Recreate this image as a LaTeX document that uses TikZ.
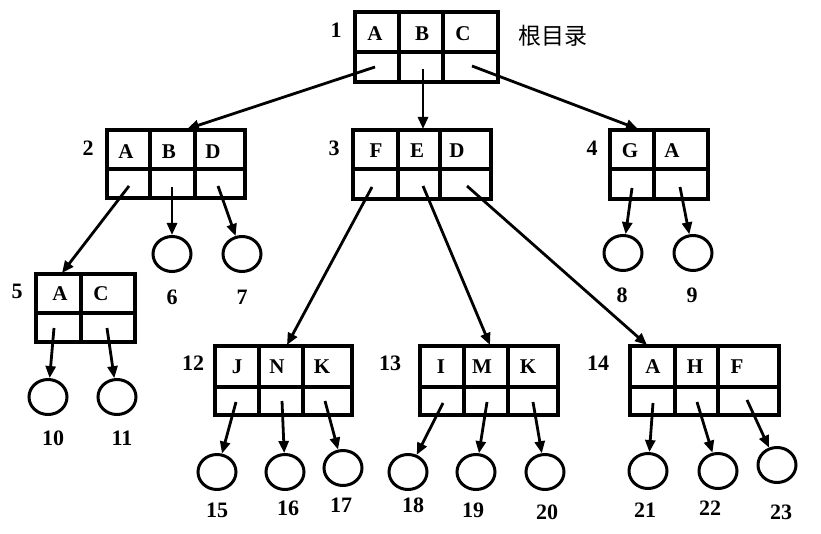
\documentclass[tikz,border=0pt]{standalone}
\usepackage{fontspec}
\setmainfont{Liberation Serif}
\newfontfamily\cjkfont{Noto Sans CJK SC}
\usetikzlibrary{arrows.meta,shapes.geometric}
\begin{document}
\begin{tikzpicture}[x=1pt,y=-1pt,
  frame/.style={line width=3.2pt},
  ptr/.style={line width=2.8pt,-{Triangle[length=12pt,width=10pt]}},
  leaf/.style={draw,ellipse,line width=3pt,minimum width=38pt,minimum height=35pt,inner sep=0pt},
  lab/.style={font=\fontsize{21}{22}\selectfont\bfseries,inner sep=0pt},
  num/.style={font=\fontsize{22}{23}\selectfont\bfseries,inner sep=0pt},
]
\useasboundingbox (0,0) rectangle (821,534);

% ---------- directory blocks: outer frame, middle rule, column dividers ----------
% block 1 (root)
\draw[frame] (355,12) rectangle (498,82) (355,52) -- (498,52) (399,12) -- (399,82) (443,12) -- (443,82);
\node[num] (n1) at (336,30) {1};
\node[lab] (b1a) at (375,34) {A};
\node[lab] (b1b) at (422,34) {B};
\node[lab] (b1c) at (463,34) {C};
\node[font=\cjkfont\fontsize{23}{24}\selectfont,inner sep=0pt] (root) at (553,36) {根目录};
\coordinate (p1a) at (375,67);
\coordinate (p1b) at (423,69);
\coordinate (p1c) at (472,66);

% block 2
\draw[frame] (107,130) rectangle (245,198) (107,169) -- (245,169) (150,130) -- (150,198) (195,130) -- (195,198);
\node[num] (n2) at (88,148) {2};
\node[lab] (b2a) at (126,152) {A};
\node[lab] (b2b) at (169,152) {B};
\node[lab] (b2d) at (213,152) {D};
\coordinate (p2a) at (129,186);
\coordinate (p2b) at (172,187);
\coordinate (p2d) at (218,186);
\coordinate (t2) at (187,129);

% block 3
\draw[frame] (353,130) rectangle (491,199) (353,169) -- (491,169) (398,130) -- (398,199) (440,130) -- (440,199);
\node[num] (n3) at (334,148) {3};
\node[lab] (b3f) at (376,151) {F};
\node[lab] (b3e) at (417,151) {E};
\node[lab] (b3d) at (457,151) {D};
\coordinate (p3f) at (372,187);
\coordinate (p3e) at (423,186);
\coordinate (p3d) at (467,186);
\coordinate (t3) at (423,129);

% block 4
\draw[frame] (610,130) rectangle (708,199) (610,169) -- (708,169) (654,130) -- (654,199);
\node[num] (n4) at (592,148) {4};
\node[lab] (b4g) at (630,151) {G};
\node[lab] (b4a) at (672,151) {A};
\coordinate (p4g) at (632,188);
\coordinate (p4a) at (680,187);
\coordinate (t4) at (638,129);

% block 5
\draw[frame] (36,274) rectangle (135,342) (36,313) -- (135,313) (81,274) -- (81,342);
\node[num] (n5) at (17,291) {5};
\node[lab] (b5a) at (60,294) {A};
\node[lab] (b5c) at (101,294) {C};
\coordinate (p5a) at (54,328);
\coordinate (p5c) at (107,328);
\coordinate (t5) at (62,273);

% block 12
\draw[frame] (215,346) rectangle (352,415) (215,387) -- (352,387) (259,346) -- (259,415) (303,346) -- (303,415);
\node[num] (n12) at (193,363) {12};
\node[lab] (b12j) at (237,367) {J};
\node[lab] (b12n) at (277,367) {N};
\node[lab] (b12k) at (322,367) {K};
\coordinate (p12j) at (236,402);
\coordinate (p12n) at (282,401);
\coordinate (p12k) at (325,401);
\coordinate (t12) at (287,345);

% block 13
\draw[frame] (420,346) rectangle (558,415) (420,387) -- (558,387) (464,346) -- (464,415) (508,346) -- (508,415);
\node[num] (n13) at (390,363) {13};
\node[lab] (b13i) at (441,367) {I};
\node[lab] (b13m) at (482,367) {M};
\node[lab] (b13k) at (528,367) {K};
\coordinate (p13i) at (443,403);
\coordinate (p13m) at (487,402);
\coordinate (p13k) at (533,402);
\coordinate (t13) at (490,345);

% block 14
\draw[frame] (630,346) rectangle (779,415) (630,387) -- (779,387) (675,346) -- (675,415) (718,346) -- (718,415);
\node[num] (n14) at (598,363) {14};
\node[lab] (b14a) at (653,367) {A};
\node[lab] (b14h) at (695,367) {H};
\node[lab] (b14f) at (737,367) {F};
\coordinate (p14a) at (653,403);
\coordinate (p14h) at (697,402);
\coordinate (p14f) at (747,400);
\coordinate (t14) at (647,345);

% ---------- file leaves ----------
\node[leaf] (c6)  at (172,254) {};
\node[leaf] (c7)  at (242,254) {};
\node[leaf] (c8)  at (623,253) {};
\node[leaf] (c9)  at (693,253) {};
\node[leaf] (c10) at (48,397) {};
\node[leaf] (c11) at (117,397) {};
\node[leaf] (c15) at (217,472) {};
\node[leaf] (c16) at (285,472) {};
\node[leaf] (c17) at (343,468) {};
\node[leaf] (c18) at (408,472) {};
\node[leaf] (c19) at (476,472) {};
\node[leaf] (c20) at (545,472) {};
\node[leaf] (c21) at (648,471) {};
\node[leaf] (c22) at (718,471) {};
\node[leaf] (c23) at (777,465) {};

\node[num] (l6)  at (172,297) {6};
\node[num] (l7)  at (242,297) {7};
\node[num] (l8)  at (622,295) {8};
\node[num] (l9)  at (692,295) {9};
\node[num] (l10) at (53,438) {10};
\node[num] (l11) at (122,438) {11};
\node[num] (l15) at (217,510) {15};
\node[num] (l16) at (288,508) {16};
\node[num] (l17) at (341,505) {17};
\node[num] (l18) at (413,505) {18};
\node[num] (l19) at (473,510) {19};
\node[num] (l20) at (547,512) {20};
\node[num] (l21) at (645,510) {21};
\node[num] (l22) at (710,508) {22};
\node[num] (l23) at (781,512) {23};

% ---------- pointers ----------
\draw[ptr] (p1a) -- (t2);
\draw[ptr] (p1b) -- (t3);
\draw[ptr] (p1c) -- (t4);

\draw[ptr] (p2a) -- (t5);
\draw[ptr] (p2b) -- (c6);
\draw[ptr] (p2d) -- (c7);

\draw[ptr] (p3f) -- (t12);
\draw[ptr] (p3e) -- (t13);
\draw[ptr] (p3d) -- (t14);

\draw[ptr] (p4g) -- (c8);
\draw[ptr] (p4a) -- (c9);

\draw[ptr] (p5a) -- (c10);
\draw[ptr] (p5c) -- (c11);

\draw[ptr] (p12j) -- (c15);
\draw[ptr] (p12n) -- (c16);
\draw[ptr] (p12k) -- (c17);

\draw[ptr] (p13i) -- (c18);
\draw[ptr] (p13m) -- (c19);
\draw[ptr] (p13k) -- (c20);

\draw[ptr] (p14a) -- (c21);
\draw[ptr] (p14h) -- (c22);
\draw[ptr] (p14f) -- (c23);
\end{tikzpicture}
\end{document}
